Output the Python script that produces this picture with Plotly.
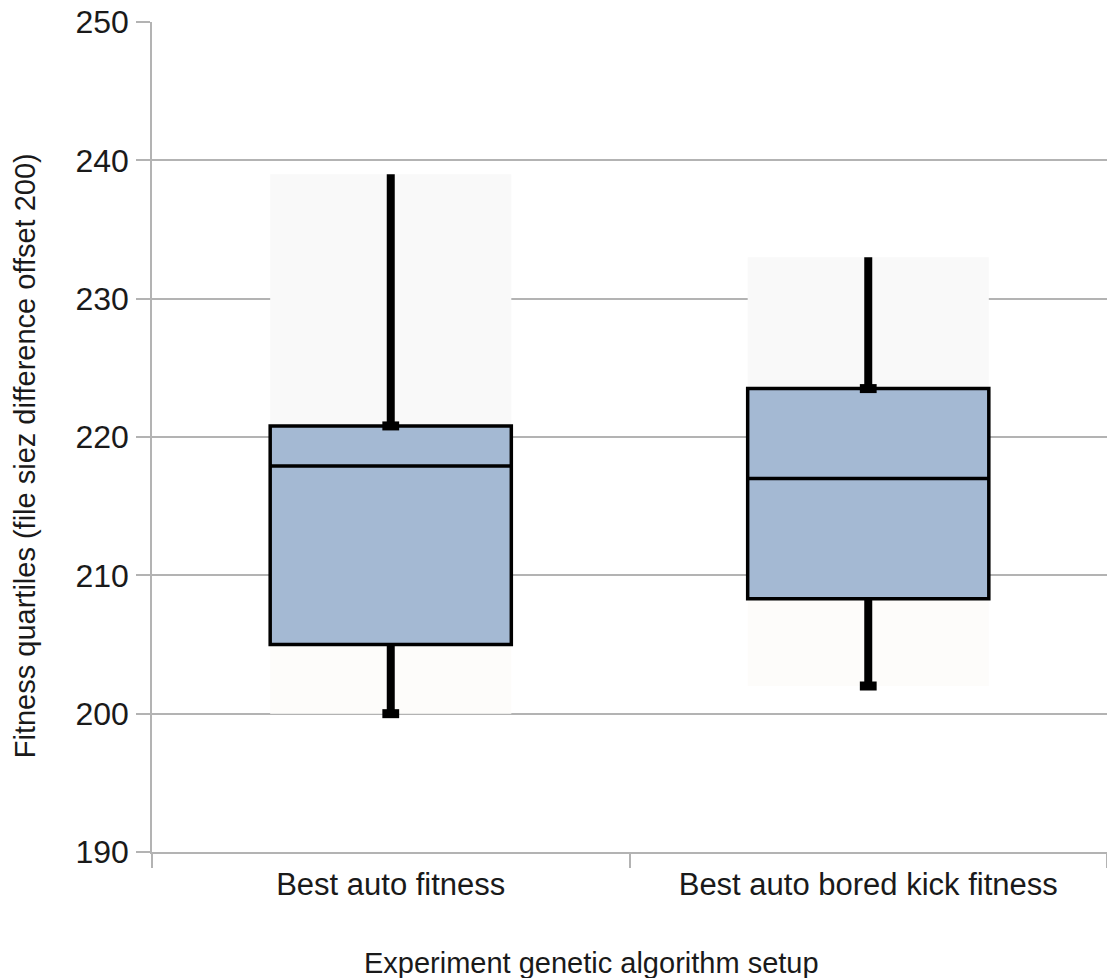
import plotly.graph_objects as go

# Fitness quartile summary per experiment setup
categories = ["Best auto fitness", "Best auto bored kick fitness"]
minimum = [200.0, 202.0]
q1 = [205.0, 208.3]
median = [217.9, 217.0]
q3 = [220.8, 223.5]
maximum = [239.0, 233.0]

FONT = "Liberation Sans, Arial, sans-serif"
GRID = "#b3b3b3"
BOX_FILL = "#a4b9d3"
BOX_W = 0.505
TXT = "#1a1a1a"

fig = go.Figure()

# faint range bands behind the whiskers
fig.add_trace(go.Bar(
    x=categories, y=[a - b for a, b in zip(q1, minimum)], base=minimum,
    width=BOX_W, marker=dict(color="#fdfcfa", line=dict(width=0)),
    hoverinfo="skip", showlegend=False))
fig.add_trace(go.Bar(
    x=categories, y=[a - b for a, b in zip(maximum, q3)], base=q3,
    width=BOX_W, marker=dict(color="#f9f9f9", line=dict(width=0)),
    hoverinfo="skip", showlegend=False))

# whiskers (thick lines)
for i, c in enumerate(categories):
    for lo, hi in ((minimum[i], q1[i]), (q3[i], maximum[i])):
        fig.add_trace(go.Scatter(
            x=[c, c], y=[lo, hi], mode="lines",
            line=dict(color="black", width=8),
            hoverinfo="skip", showlegend=False))

# small end caps at the lower whisker end and at the upper whisker base
fig.add_trace(go.Scatter(
    x=categories + categories, y=minimum + q3, mode="markers",
    marker=dict(symbol="line-ew", size=12,
                line=dict(color="black", width=9)),
    hoverinfo="skip", showlegend=False))

# boxes with median line
fig.add_trace(go.Box(
    x=categories, q1=q1, median=median, q3=q3,
    lowerfence=q1, upperfence=q3,
    width=BOX_W, whiskerwidth=0,
    fillcolor=BOX_FILL, line=dict(color="black", width=3.5),
    boxpoints=False, hoverinfo="skip", showlegend=False))

fig.update_layout(
    width=1107, height=978,
    margin=dict(l=152, r=0, t=22, b=126),
    plot_bgcolor="white", paper_bgcolor="white",
    barmode="overlay", boxmode="overlay",
    font=dict(family=FONT, color=TXT),
    xaxis=dict(
        type="category", range=[-0.5, 1.5],
        tickson="boundaries", ticks="outside", ticklen=14,
        tickcolor=GRID, tickwidth=1.5,
        showline=True, linecolor=GRID, linewidth=1.5,
        showgrid=False, zeroline=False, ticklabelstandoff=4,
        tickfont=dict(size=31, family=FONT, color=TXT),
    ),
    yaxis=dict(
        range=[190, 250], tick0=190, dtick=10,
        ticks="outside", ticklen=14, tickcolor=GRID, tickwidth=1.5,
        showline=True, linecolor=GRID, linewidth=1.5,
        showgrid=True, gridcolor=GRID, gridwidth=1.5,
        zeroline=False, ticklabelstandoff=1,
        tickfont=dict(size=32, family=FONT, color=TXT),
    ),
    annotations=[
        dict(text="Fitness quartiles (file siez difference offset 200)",
             xref="paper", yref="paper", x=-0.133, y=0.478,
             textangle=-90, showarrow=False,
             font=dict(size=29, family=FONT, color=TXT),
             xanchor="center", yanchor="middle"),
        dict(text="Experiment genetic algorithm setup",
             xref="paper", yref="paper", x=0.4597, y=-0.1337,
             showarrow=False,
             font=dict(size=29, family=FONT, color=TXT),
             xanchor="center", yanchor="middle"),
    ],
)

fig.write_html("out.html")
